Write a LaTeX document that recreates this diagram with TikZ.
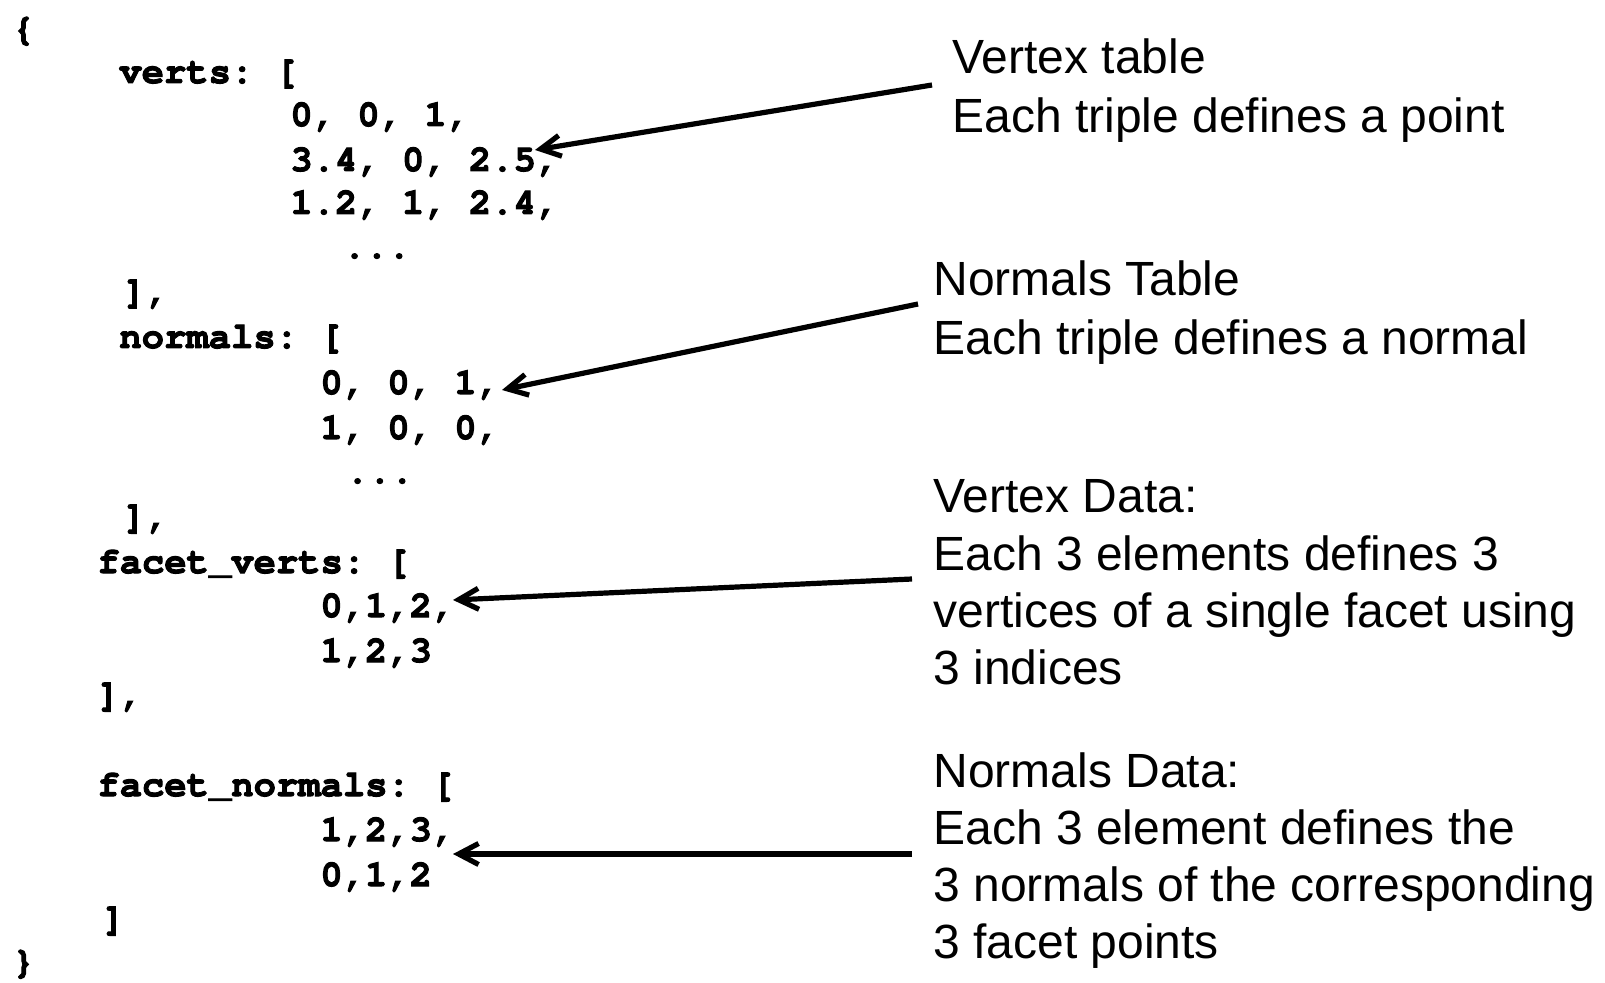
\documentclass[tikz,border=0pt]{standalone}
\usepackage{fontspec}
\setmainfont{Liberation Sans}
\newcommand\mycode{\fontencoding{T1}\fontfamily{pcr}\fontseries{b}\fontshape{n}\selectfont\frenchspacing}
\newcommand\heavyon{\special{pdf:literal direct 2 Tr 0.5 w}}
\newcommand\heavyoff{\special{pdf:literal direct 0 Tr}}
\usetikzlibrary{arrows.meta}
\begin{document}
\begin{tikzpicture}[x=0.5pt,y=-0.5pt,
  code/.style={anchor=base west,inner sep=0pt,font=\mycode\fontsize{18.6}{22}\selectfont,
    execute at begin node=\heavyon, execute at end node=\heavyoff},
  lbl/.style={anchor=base west,inner sep=0pt,font=\fontsize{24}{28}\selectfont},
  arr/.style={-{Straight Barb[length=10pt,width=10.5pt]},line width=2.6pt}]
\path[use as bounding box,fill=white] (0,0) rectangle (1605,983);
% code
\node[code] (ob) at (12,40) {\{};
\node[code] (c1) at (119,83) {verts: [};
\node[code] (c2) at (290,126) {0, 0, 1,};
\node[code] (c3) at (290,171) {3.4, 0, 2.5,};
\node[code] (c4) at (290,214) {1.2, 1, 2.4,};
\node[code] (c5) at (343,258) {...};
\node[code] (c6) at (123,303) {],};
\node[code] (c7) at (119,348) {normals: [};
\node[code] (c8) at (320,394) {0, 0, 1,};
\node[code] (c9) at (320,439) {1, 0, 0,};
\node[code] (c10) at (346,483) {...};
\node[code] (c11) at (123,528) {],};
\node[code] (c12) at (97,573) {facet\_verts: [};
\node[code] (c13) at (320,617) {0,1,2,};
\node[code] (c14) at (320,662) {1,2,3};
\node[code] (c15) at (97,706) {],};
\node[code] (c16) at (97,796) {facet\_normals: [};
\node[code] (c17) at (320,841) {1,2,3,};
\node[code] (c18) at (320,886) {0,1,2};
\node[code] (c19) at (102,930) {]};
\node[code] (cb) at (12,973) {\}};
% labels
\node[lbl] (a1) at (952,74) {Vertex table};
\node[lbl] (a2) at (952,133) {Each triple defines a point};
\node[lbl] (b1) at (933,296) {Normals Table};
\node[lbl] (b2) at (933,355) {Each triple defines a normal};
\node[lbl] (d1) at (933,513) {Vertex Data:};
\node[lbl] (d2) at (933,570) {Each 3 elements defines 3};
\node[lbl] (d3) at (933,627) {vertices of a single facet using};
\node[lbl] (d4) at (933,684) {3 indices};
\node[lbl] (e1) at (933,787) {Normals Data:};
\node[lbl] (e2) at (933,844) {Each 3 element defines the};
\node[lbl] (e3) at (933,901) {3 normals of the corresponding};
\node[lbl] (e4) at (933,958) {3 facet points};
% arrow ends
\coordinate (s1) at (932,85);  \coordinate (t1) at (535,150);
\coordinate (s2) at (918,304); \coordinate (t2) at (502,390);
\coordinate (s3) at (912,579); \coordinate (t3) at (453,600);
\coordinate (s4) at (912,854); \coordinate (t4) at (453,854);
\draw[arr] (s1) -- (t1);
\draw[arr] (s2) -- (t2);
\draw[arr] (s3) -- (t3);
\draw[arr] (s4) -- (t4);
\end{tikzpicture}
\end{document}
